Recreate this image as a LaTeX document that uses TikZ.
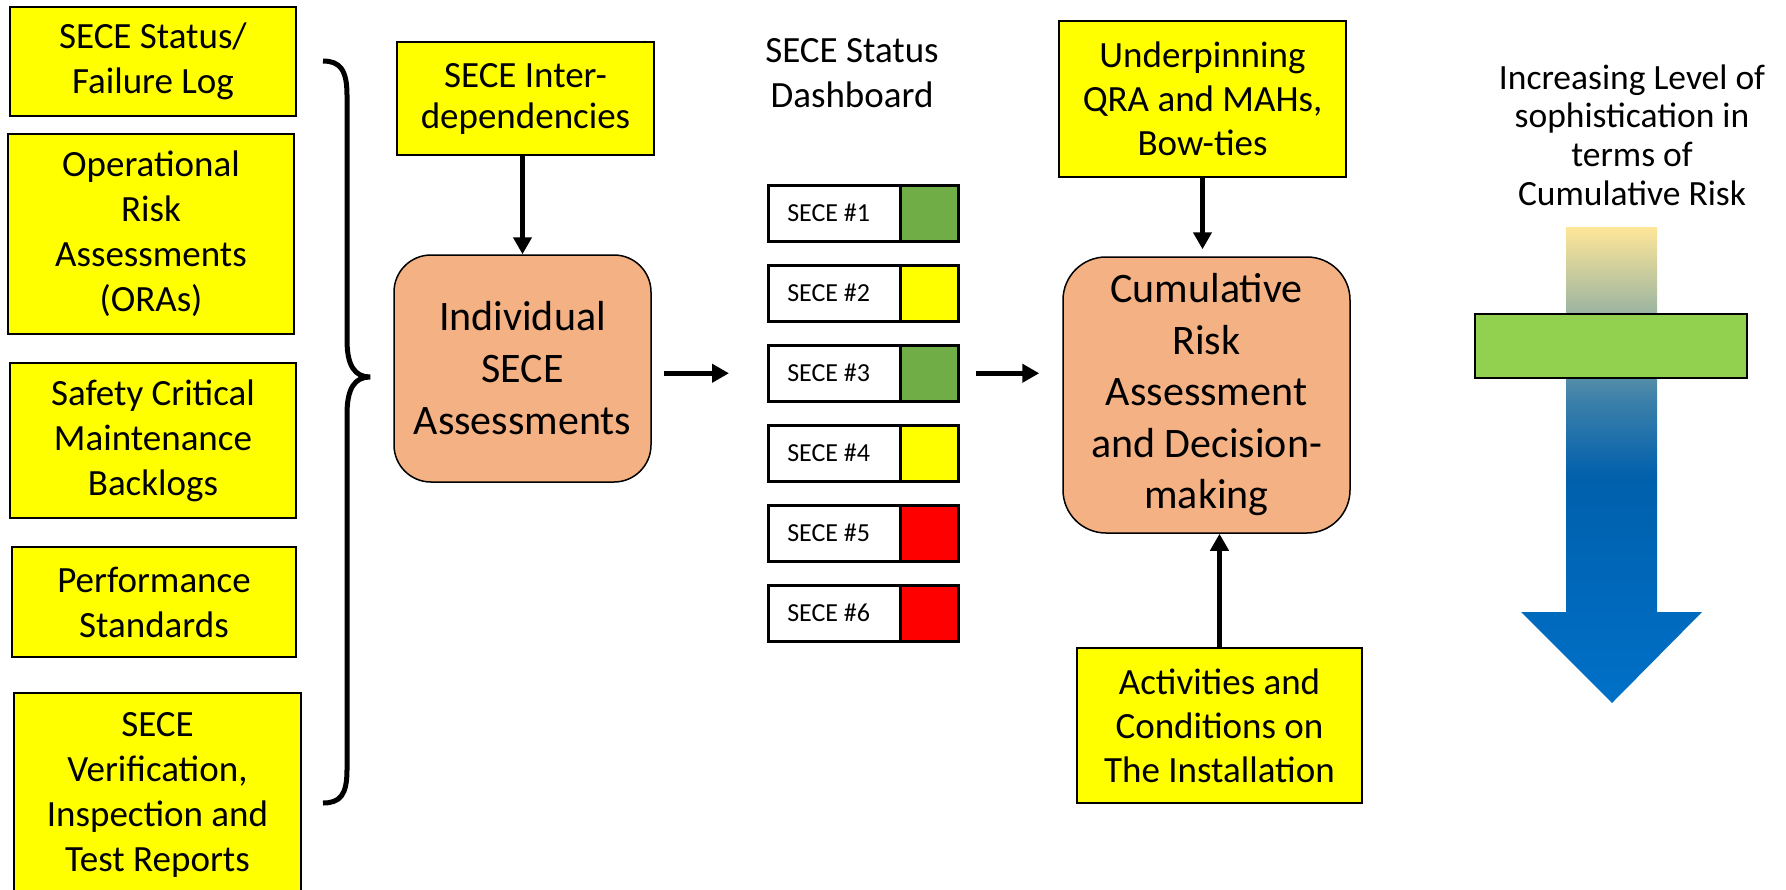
\documentclass[tikz,border=0pt]{standalone}
\usepackage{fontspec}
\setmainfont{Carlito}
\usetikzlibrary{arrows.meta,calc}
\definecolor{cYellow}{HTML}{FFFF00}
\definecolor{cOrange}{HTML}{F4B183}
\definecolor{cGreen}{HTML}{70AD47}
\definecolor{cRed}{HTML}{FF0000}
\definecolor{cBar}{HTML}{92D050}
\definecolor{gA}{RGB}{0,112,200}
\definecolor{gB}{RGB}{0,96,172}
\definecolor{gC}{RGB}{60,128,170}
\definecolor{gD}{RGB}{170,188,160}
\definecolor{gE}{RGB}{255,230,153}
\pgfdeclareverticalshading{arrowgrad}{100bp}{color(0bp)=(gA); color(25bp)=(gA); color(48.7bp)=(gB); color(56.8bp)=(gC); color(67.3bp)=(gD); color(75bp)=(gE); color(100bp)=(gE)}
\begin{document}
\begin{tikzpicture}[x=1bp,y=-1bp,
  inbox/.style={draw=black, line width=1.3bp, fill=cYellow, inner sep=0pt, align=flush center,
    font=\fontsize{37bp}{45bp}\selectfont},
  rbox/.style={draw=black, line width=1.5bp, fill=cOrange, rounded corners=#1, inner sep=0pt, align=flush center,
    font=\fontsize{42bp}{52bp}\selectfont},
  rowlab/.style={draw=black, line width=2.5bp, fill=white, inner xsep=19bp, inner ysep=0pt,
    text width=94bp, align=flush left, minimum height=56bp, anchor=north west,
    font=\fontsize{26bp}{30bp}\selectfont},
  rowcol/.style={draw=black, line width=2.5bp, inner sep=0pt, minimum width=58bp, minimum height=56bp, anchor=north west},
  conn/.style={line width=5bp, -{Triangle[width=18bp,length=17bp]}}
]
\useasboundingbox (0,0) rectangle (1786,890);
\clip (0,0) rectangle (1786,890);
\fill[white] (0,0) rectangle (1786,890);

% left input boxes
\node[inbox, minimum width=286bp, minimum height=109bp, text width=270bp] (b1) at (153,61.5) {SECE Status/\\Failure Log};
\node[inbox, minimum width=286bp, minimum height=200bp, text width=270bp] (b2) at (151,234) {Operational\\Risk\\Assessments\\(ORAs)};
\node[inbox, minimum width=286bp, minimum height=155bp, text width=270bp] (b3) at (153,440.5) {Safety Critical\\Maintenance\\Backlogs};
\node[inbox, minimum width=284bp, minimum height=110bp, text width=270bp] (b4) at (154,602) {Performance\\Standards};
\node[inbox, minimum width=287bp, minimum height=204bp, text width=270bp] (b5) at (157.5,795) {SECE\\Verification,\\Inspection and\\Test Reports};

% brace
\draw[line width=5bp] (323,61) .. controls (340,61) and (347,70) .. (347,95) -- (347,340)
  .. controls (347,366) and (355,377) .. (370,377)
  .. controls (355,377) and (347,388) .. (347,414) -- (347,770)
  .. controls (347,795) and (340,803) .. (323,803);

% middle-left
\node[inbox, minimum width=257bp, minimum height=113bp, text width=240bp,
  font=\fontsize{37bp}{41bp}\selectfont] (inter) at (525.5,98.5) {SECE Inter-\\dependencies};
\node[rbox=37bp, minimum width=257bp, minimum height=227bp, text width=240bp] (ind) at (522.5,368.5) {Individual\\SECE\\Assessments};

% dashboard
\node[align=center, inner sep=0pt, font=\fontsize{37bp}{45bp}\selectfont] (dash) at (852,73) {SECE Status\\Dashboard};
\foreach \i/\c in {1/cGreen,2/cYellow,3/cGreen,4/cYellow,5/cRed,6/cRed} {
  \node[rowlab] (rl\i) at (767,{184+80*(\i-1)}) {SECE \#\i};
  \node[rowcol, fill=\c] (rc\i) at (899,{184+80*(\i-1)}) {};
}

% right-middle
\node[inbox, minimum width=287bp, minimum height=156bp, text width=270bp,
  font=\fontsize{37bp}{44bp}\selectfont] (under) at (1202.5,99) {Underpinning\\QRA and MAHs,\\Bow-ties};
\node[rbox=43bp, minimum width=287bp, minimum height=276bp, text width=270bp,
  font=\fontsize{42bp}{51.5bp}\selectfont] (cum) at (1206.5,395) {Cumulative\\Risk\\Assessment\\and Decision-\\making};
\node[inbox, minimum width=285bp, minimum height=155bp, text width=270bp,
  font=\fontsize{37bp}{44bp}\selectfont] (act) at (1219.5,725.5) {Activities and\\Conditions on\\The Installation};

% connectors
\draw[conn] (ind.north |- inter.south) -- (ind.north);
\draw[conn, shorten <=12bp, shorten >=38bp] (ind.east |- rl3.west) -- (rl3.west);
\draw[conn, shorten <=16bp, shorten >=23bp] (rc3.east) -- (rc3.east -| cum.west);
\draw[conn, shorten >=7bp] (under.south) -- (under.south |- cum.north);
\draw[conn] (act.north) -- (act.north |- cum.south);

% sophistication indicator
\node[align=center, inner sep=0pt, font=\fontsize{35.5bp}{38.7bp}\selectfont] (soph) at (1632,135)
  {Increasing Level of\\sophistication in\\terms of\\Cumulative Risk};
\shade[shading=arrowgrad] (1566,227) -- (1657,227) -- (1657,612) -- (1702,612) -- (1612,703)
  -- (1521,612) -- (1566,612) -- cycle;
\draw[line width=1.3bp, fill=cBar] (1475,314) rectangle (1747,378);
\end{tikzpicture}
\end{document}
